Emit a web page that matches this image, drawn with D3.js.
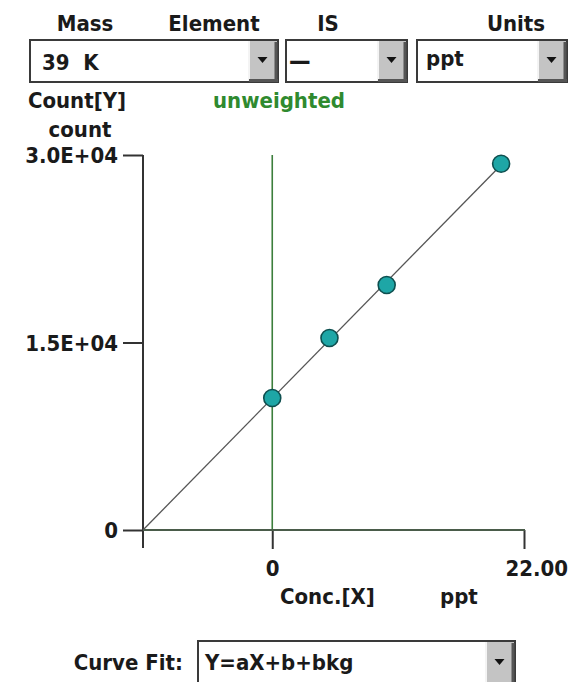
<!DOCTYPE html>
<html>
<head>
<meta charset="utf-8">
<script src="https://cdn.jsdelivr.net/npm/d3@7"></script>
<style>
  html, body { margin: 0; padding: 0; background: #fff; }
  svg { display: block; }
  text { font-family: "DejaVu Sans Condensed", "DejaVu Sans", sans-serif; font-stretch: condensed; font-weight: bold; fill: #1a1a1a; white-space: pre; }
</style>
</head>
<body>
<svg id="chart" width="580" height="682"></svg>
<script>
// Calibration standards: concentration (ppt) and measured counts
const concentrations = [0, 5, 10, 20];
const counts = [10560, 15360, 19600, 29300];

// Axis ticks
const yTickValues = [0, 15000, 30000];
const yTickLabels = ["0", "1.5E+04", "3.0E+04"];
const xTickValues = [0, 22];
const xTickLabels = ["0", "22.00"];

// Selector fields
const headerLabels = ["Mass", "Element", "IS", "Units"];
const massElement = "39  K";
const internalStd = "—";
const unitsLabel = "ppt";
const fitLabel = "Y=aX+b+bkg";

const FS = 22;

// Least-squares line Y = aX + b
const mx = d3.mean(concentrations), my = d3.mean(counts);
const sxy = d3.sum(concentrations, (x, i) => (x - mx) * (counts[i] - my));
const sxx = d3.sum(concentrations, x => (x - mx) * (x - mx));
const slope = sxy / sxx;
const intercept = my - slope * mx;
const xIntercept = -intercept / slope;

const svg = d3.select("#chart");
svg.append("rect").attr("width", 580).attr("height", 682).attr("fill", "#fff");

const x = d3.scaleLinear().domain([xIntercept, xTickValues[1]]).range([143, 524]);
const y = d3.scaleLinear().domain([0, yTickValues[2]]).range([530, 155]);

// ---- header labels ----
const headerX = [85, 214, 328, 516];
svg.selectAll("text.hdr").data(headerLabels).join("text")
  .attr("class", "hdr")
  .attr("x", (d, i) => headerX[i]).attr("y", 31)
  .attr("text-anchor", "middle").attr("font-size", FS)
  .text(d => d);

// ---- dropdown boxes ----
function dropdown(x0, y0, w, h, label, labelX, labelY, fs) {
  const g = svg.append("g");
  g.append("rect").attr("x", x0).attr("y", y0).attr("width", w).attr("height", h)
    .attr("fill", "#fff").attr("stroke", "#3a3a3a").attr("stroke-width", 2);
  const bw = 29;
  const bx = x0 + w - bw;
  g.append("rect").attr("x", bx).attr("y", y0 + 1).attr("width", bw - 1).attr("height", h - 2)
    .attr("fill", "#c4c4c4");
  g.append("line").attr("x1", bx).attr("x2", bx).attr("y1", y0 + 1).attr("y2", y0 + h - 1)
    .attr("stroke", "#f4f4f4").attr("stroke-width", 2);
  g.append("line").attr("x1", x0 + w - 2).attr("x2", x0 + w - 2).attr("y1", y0 + 2).attr("y2", y0 + h)
    .attr("stroke", "#555").attr("stroke-width", 3);
  g.append("line").attr("x1", bx).attr("x2", x0 + w).attr("y1", y0 + h - 1.5).attr("y2", y0 + h - 1.5)
    .attr("stroke", "#555").attr("stroke-width", 3);
  const cx = bx + bw / 2 - 1, cy = y0 + h / 2 - 2;
  g.append("path").attr("d", `M${cx - 5},${cy - 2}L${cx + 5},${cy - 2}L${cx},${cy + 4}Z`).attr("fill", "#111");
  g.append("text").attr("x", labelX).attr("y", labelY).attr("font-size", fs).text(label);
}
dropdown(30, 40, 248, 42, massElement, 42, 70, FS);
dropdown(286, 40, 121, 42, internalStd, 289, 69, 24);
dropdown(417, 40, 150, 42, unitsLabel, 426, 66, FS);
dropdown(198, 641, 317, 44, fitLabel, 205, 670, FS);

// ---- axis titles ----
svg.append("text").attr("x", 77).attr("y", 108).attr("text-anchor", "middle").attr("font-size", FS).text("Count[Y]");
svg.append("text").attr("x", 80).attr("y", 137).attr("text-anchor", "middle").attr("font-size", FS).text("count");
svg.append("text").attr("x", 213).attr("y", 108).attr("font-size", FS).style("fill", "#2f8a2f").text("unweighted");
svg.append("text").attr("x", 280).attr("y", 604).attr("font-size", FS).text("Conc.[X]");
svg.append("text").attr("x", 440).attr("y", 604).attr("font-size", FS).text("ppt");
svg.append("text").attr("x", 183).attr("y", 670).attr("text-anchor", "end").attr("font-size", FS).text("Curve Fit:");

// ---- zero-concentration reference line ----
svg.append("line")
  .attr("x1", x(0)).attr("x2", x(0)).attr("y1", y(yTickValues[2])).attr("y2", y(0))
  .attr("stroke", "#3d7f3d").attr("stroke-width", 1.6);

// ---- Y axis ----
const yAxis = svg.append("g").attr("transform", `translate(${x(xIntercept)},0)`)
  .call(d3.axisLeft(y).tickValues(yTickValues).tickSize(20).tickSizeOuter(0)
    .tickFormat((d, i) => yTickLabels[i]));
yAxis.select(".domain").remove();
yAxis.selectAll(".tick line").attr("stroke", "#333").attr("stroke-width", 2);
yAxis.selectAll(".tick text").attr("x", -25).attr("dy", "0.36em")
  .attr("font-size", FS).attr("font-family", null).attr("fill", "#1a1a1a");
svg.append("line").attr("x1", x(xIntercept)).attr("x2", x(xIntercept))
  .attr("y1", y(yTickValues[2])).attr("y2", y(0) + 18)
  .attr("stroke", "#333").attr("stroke-width", 2);

// ---- X axis ----
const xAxis = svg.append("g").attr("transform", `translate(0,${y(0)})`)
  .call(d3.axisBottom(x).tickValues(xTickValues).tickSize(19).tickSizeOuter(0)
    .tickFormat((d, i) => xTickLabels[i]));
xAxis.select(".domain").remove();
xAxis.selectAll(".tick line").attr("stroke", "#333").attr("stroke-width", 2);
xAxis.selectAll(".tick text").attr("y", 46).attr("dy", 0).attr("font-size", FS)
  .attr("font-family", null).attr("fill", "#1a1a1a")
  .attr("text-anchor", (d, i) => i === 1 ? "start" : "middle")
  .attr("dx", (d, i) => i === 1 ? -19 : 0);
svg.append("line").attr("x1", x(xIntercept)).attr("x2", x(xTickValues[1]) + 1)
  .attr("y1", y(0)).attr("y2", y(0))
  .attr("stroke", "#4a5c4a").attr("stroke-width", 2);

// ---- calibration fit line ----
svg.append("line")
  .attr("x1", x(xIntercept)).attr("y1", y(0))
  .attr("x2", x(d3.max(concentrations))).attr("y2", y(slope * d3.max(concentrations) + intercept))
  .attr("stroke", "#555").attr("stroke-width", 1.3);

// ---- standards ----
svg.selectAll("circle.pt").data(concentrations).join("circle")
  .attr("class", "pt")
  .attr("cx", d => x(d)).attr("cy", (d, i) => y(counts[i]))
  .attr("r", 8.5)
  .attr("fill", "#1ea6a6").attr("stroke", "#0e4f4f").attr("stroke-width", 1.6);
</script>
</body>
</html>
